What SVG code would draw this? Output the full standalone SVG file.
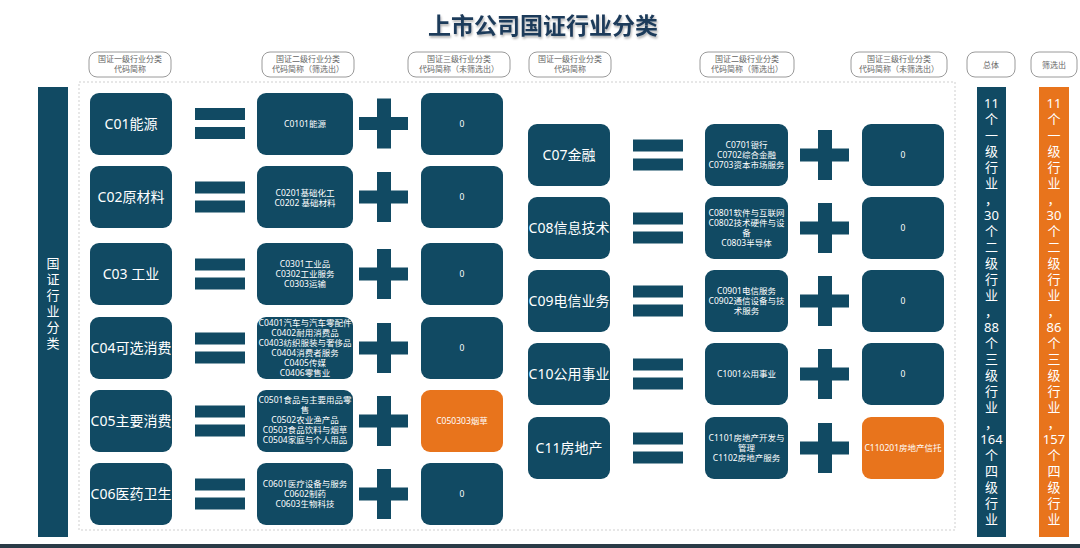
<svg xmlns="http://www.w3.org/2000/svg" width="1080" height="548" viewBox="0 0 1080 548">
<defs>
<style>
text{font-family:"Noto Sans","Noto Sans CJK SC",sans-serif}
.n{fill:#114a63}
.o{fill:#e8741c}
.pill{fill:#fff;stroke:#9a9a9a;stroke-width:1}
.ph{font-size:8px;fill:#666;text-anchor:middle}
.l1{font-size:14px;fill:#fff;text-anchor:middle}
.l2{font-size:8.5px;fill:#fff;text-anchor:middle}
.bt{font-size:13px;fill:#fff;text-anchor:middle}
.title{font-size:23px;font-weight:bold;fill:#1d3a5a;text-anchor:middle}
</style>
<filter id="sh" x="-5%" y="-20%" width="110%" height="150%"><feDropShadow dx="1" dy="2" stdDeviation="1.2" flood-color="#000" flood-opacity="0.3"/></filter>
<g id="eq"><rect x="0" y="-15.5" width="50" height="12" class="n"/><rect x="0" y="3.5" width="50" height="12" class="n"/></g>
<g id="plus"><rect x="0" y="-6.5" width="49" height="13" class="n"/><rect x="18" y="-25" width="14" height="50" class="n"/></g>
</defs>
<rect width="1080" height="548" fill="#fff"/>
<text class="title" x="543" y="34" filter="url(#sh)">上市公司国证行业分类</text>

<g id="headers">
<rect class="pill" x="89" y="52" width="82" height="25" rx="8"/>
<text class="ph" x="130" y="62">国证一级行业分类</text><text class="ph" x="130" y="72">代码简称</text>
<rect class="pill" x="262" y="52" width="92" height="25" rx="8"/>
<text class="ph" x="308" y="62">国证二级行业分类</text><text class="ph" x="308" y="72">代码简称（筛选出）</text>
<rect class="pill" x="408" y="52" width="102" height="25" rx="8"/>
<text class="ph" x="459" y="62">国证三级行业分类</text><text class="ph" x="459" y="72">代码简称（未筛选出）</text>
<rect class="pill" x="529" y="52" width="82" height="25" rx="8"/>
<text class="ph" x="570" y="62">国证一级行业分类</text><text class="ph" x="570" y="72">代码简称</text>
<rect class="pill" x="700" y="52" width="94" height="25" rx="8"/>
<text class="ph" x="747" y="62">国证二级行业分类</text><text class="ph" x="747" y="72">代码简称（筛选出）</text>
<rect class="pill" x="851" y="52" width="96" height="25" rx="8"/>
<text class="ph" x="899" y="62">国证三级行业分类</text><text class="ph" x="899" y="72">代码简称（未筛选出）</text>
<rect class="pill" x="967" y="52" width="48" height="25" rx="8"/>
<text class="ph" x="991" y="67.5">总体</text>
<rect class="pill" x="1031" y="52" width="46" height="25" rx="8"/>
<text class="ph" x="1054" y="67.5">筛选出</text>
</g>

<rect x="79" y="82" width="876" height="448" fill="none" stroke="#cfcfcf" stroke-width="1" stroke-dasharray="2 2"/>

<g id="side-left">
<rect x="38" y="87" width="30" height="450" class="n"/>
<text class="bt"><tspan x="53" y="268">国</tspan><tspan x="53" dy="16">证</tspan><tspan x="53" dy="16">行</tspan><tspan x="53" dy="16">业</tspan><tspan x="53" dy="16">分</tspan><tspan x="53" dy="16">类</tspan></text>
</g>

<g id="connectors">
<use href="#eq" x="195" y="123.5"/><use href="#eq" x="195" y="197"/><use href="#eq" x="195" y="274"/>
<use href="#eq" x="195" y="348"/><use href="#eq" x="195" y="421"/><use href="#eq" x="195" y="494"/>
<use href="#plus" x="359" y="123.5"/><use href="#plus" x="359" y="197"/><use href="#plus" x="359" y="274"/>
<use href="#plus" x="359" y="348"/><use href="#plus" x="359" y="421"/><use href="#plus" x="359" y="494"/>
<use href="#eq" x="633" y="155"/><use href="#eq" x="633" y="228"/><use href="#eq" x="633" y="301"/>
<use href="#eq" x="633" y="374"/><use href="#eq" x="633" y="448"/>
<use href="#plus" x="800" y="155"/><use href="#plus" x="800" y="228"/><use href="#plus" x="800" y="301"/>
<use href="#plus" x="800" y="374"/><use href="#plus" x="800" y="448"/>
</g>

<g id="C01"><rect class="n" x="90" y="93" width="82" height="62" rx="9"/><text class="l1" x="131" y="128.5">C01能源</text></g>
<g id="C01-2"><rect class="n" x="257" y="93" width="96" height="62" rx="9"/><text class="l2" x="305" y="127">C0101能源</text></g>
<g id="C01-3"><rect class="n" x="421" y="93" width="82" height="62" rx="9"/><text class="l2" x="462" y="127">0</text></g>
<g id="C02"><rect class="n" x="90" y="166" width="82" height="62" rx="9"/><text class="l1" x="131" y="202">C02原材料</text></g>
<g id="C02-2"><rect class="n" x="257" y="166" width="96" height="62" rx="9"/><text class="l2" x="305" y="195.5">C0201基础化工</text><text class="l2" x="305" y="205.5">C0202 基础材料</text></g>
<g id="C02-3"><rect class="n" x="421" y="166" width="82" height="62" rx="9"/><text class="l2" x="462" y="200">0</text></g>
<g id="C03"><rect class="n" x="90" y="243" width="82" height="62" rx="9"/><text class="l1" x="131" y="279">C03 工业</text></g>
<g id="C03-2"><rect class="n" x="257" y="243" width="96" height="62" rx="9"/><text class="l2" x="305" y="267">C0301工业品</text><text class="l2" x="305" y="277">C0302工业服务</text><text class="l2" x="305" y="287">C0303运输</text></g>
<g id="C03-3"><rect class="n" x="421" y="243" width="82" height="62" rx="9"/><text class="l2" x="462" y="277">0</text></g>
<g id="C04"><rect class="n" x="90" y="317" width="82" height="62" rx="9"/><text class="l1" x="131" y="353">C04可选消费</text></g>
<g id="C04-2"><rect class="n" x="257" y="317" width="96" height="62" rx="9"/>
<text class="l2" x="305" y="326">C0401汽车与汽车零配件</text><text class="l2" x="305" y="336">C0402耐用消费品</text><text class="l2" x="305" y="346">C0403纺织服装与奢侈品</text><text class="l2" x="305" y="356">C0404消费者服务</text><text class="l2" x="305" y="366">C0405传媒</text><text class="l2" x="305" y="376">C0406零售业</text></g>
<g id="C04-3"><rect class="n" x="421" y="317" width="82" height="62" rx="9"/><text class="l2" x="462" y="351">0</text></g>
<g id="C05"><rect class="n" x="90" y="390" width="82" height="62" rx="9"/><text class="l1" x="131" y="426">C05主要消费</text></g>
<g id="C05-2"><rect class="n" x="257" y="390" width="96" height="62" rx="9"/>
<text class="l2" x="305" y="403">C0501食品与主要用品零</text><text class="l2" x="305" y="413">售</text><text class="l2" x="305" y="423">C0502农业渔产品</text><text class="l2" x="305" y="433">C0503食品饮料与烟草</text><text class="l2" x="305" y="443">C0504家庭与个人用品</text></g>
<g id="C05-3"><rect class="o" x="421" y="390" width="82" height="62" rx="9"/><text class="l2" x="462" y="424">C050303烟草</text></g>
<g id="C06"><rect class="n" x="90" y="463" width="82" height="62" rx="9"/><text class="l1" x="131" y="499">C06医药卫生</text></g>
<g id="C06-2"><rect class="n" x="257" y="463" width="96" height="62" rx="9"/><text class="l2" x="305" y="487">C0601医疗设备与服务</text><text class="l2" x="305" y="497">C0602制药</text><text class="l2" x="305" y="507">C0603生物科技</text></g>
<g id="C06-3"><rect class="n" x="421" y="463" width="82" height="62" rx="9"/><text class="l2" x="462" y="497">0</text></g>

<g id="C07"><rect class="n" x="528" y="124" width="82" height="62" rx="9"/><text class="l1" x="569" y="160">C07金融</text></g>
<g id="C07-2"><rect class="n" x="705" y="124" width="83" height="62" rx="9"/><text class="l2" x="746.5" y="148">C0701银行</text><text class="l2" x="746.5" y="158">C0702综合金融</text><text class="l2" x="746.5" y="168">C0703资本市场服务</text></g>
<g id="C07-3"><rect class="n" x="862" y="124" width="82" height="62" rx="9"/><text class="l2" x="903" y="158">0</text></g>
<g id="C08"><rect class="n" x="528" y="197" width="82" height="62" rx="9"/><text class="l1" x="569" y="233">C08信息技术</text></g>
<g id="C08-2"><rect class="n" x="705" y="197" width="83" height="62" rx="9"/><text class="l2" x="746.5" y="216">C0801软件与互联网</text><text class="l2" x="746.5" y="226">C0802技术硬件与设</text><text class="l2" x="746.5" y="236">备</text><text class="l2" x="746.5" y="246">C0803半导体</text></g>
<g id="C08-3"><rect class="n" x="862" y="197" width="82" height="62" rx="9"/><text class="l2" x="903" y="231">0</text></g>
<g id="C09"><rect class="n" x="528" y="270" width="82" height="62" rx="9"/><text class="l1" x="569" y="306">C09电信业务</text></g>
<g id="C09-2"><rect class="n" x="705" y="270" width="83" height="62" rx="9"/><text class="l2" x="746.5" y="294">C0901电信服务</text><text class="l2" x="746.5" y="304">C0902通信设备与技</text><text class="l2" x="746.5" y="314">术服务</text></g>
<g id="C09-3"><rect class="n" x="862" y="270" width="82" height="62" rx="9"/><text class="l2" x="903" y="304">0</text></g>
<g id="C10"><rect class="n" x="528" y="343" width="82" height="62" rx="9"/><text class="l1" x="569" y="379">C10公用事业</text></g>
<g id="C10-2"><rect class="n" x="705" y="343" width="83" height="62" rx="9"/><text class="l2" x="746.5" y="377">C1001公用事业</text></g>
<g id="C10-3"><rect class="n" x="862" y="343" width="82" height="62" rx="9"/><text class="l2" x="903" y="377">0</text></g>
<g id="C11"><rect class="n" x="528" y="417" width="82" height="62" rx="9"/><text class="l1" x="569" y="453">C11房地产</text></g>
<g id="C11-2"><rect class="n" x="705" y="417" width="83" height="62" rx="9"/><text class="l2" x="746.5" y="441">C1101房地产开发与</text><text class="l2" x="746.5" y="451">管理</text><text class="l2" x="746.5" y="461">C1102房地产服务</text></g>
<g id="C11-3"><rect class="o" x="862" y="417" width="82" height="62" rx="9"/><text class="l2" x="903" y="451">C110201房地产信托</text></g>

<g id="total">
<rect x="977" y="87" width="29" height="450" class="n"/>
<text class="bt"><tspan x="991.5" y="108">11</tspan><tspan x="991.5" dy="16">个</tspan><tspan x="991.5" dy="16">一</tspan><tspan x="991.5" dy="16">级</tspan><tspan x="991.5" dy="16">行</tspan><tspan x="991.5" dy="16">业</tspan><tspan x="991.5" dy="16">，</tspan><tspan x="991.5" dy="16">30</tspan><tspan x="991.5" dy="16">个</tspan><tspan x="991.5" dy="16">二</tspan><tspan x="991.5" dy="16">级</tspan><tspan x="991.5" dy="16">行</tspan><tspan x="991.5" dy="16">业</tspan><tspan x="991.5" dy="16">，</tspan><tspan x="991.5" dy="16">88</tspan><tspan x="991.5" dy="16">个</tspan><tspan x="991.5" dy="16">三</tspan><tspan x="991.5" dy="16">级</tspan><tspan x="991.5" dy="16">行</tspan><tspan x="991.5" dy="16">业</tspan><tspan x="991.5" dy="16">，</tspan><tspan x="991.5" dy="16">164</tspan><tspan x="991.5" dy="16">个</tspan><tspan x="991.5" dy="16">四</tspan><tspan x="991.5" dy="16">级</tspan><tspan x="991.5" dy="16">行</tspan><tspan x="991.5" dy="16">业</tspan></text>
</g>
<g id="filtered">
<rect x="1039" y="87" width="30" height="450" class="o"/>
<text class="bt"><tspan x="1054" y="108">11</tspan><tspan x="1054" dy="16">个</tspan><tspan x="1054" dy="16">一</tspan><tspan x="1054" dy="16">级</tspan><tspan x="1054" dy="16">行</tspan><tspan x="1054" dy="16">业</tspan><tspan x="1054" dy="16">，</tspan><tspan x="1054" dy="16">30</tspan><tspan x="1054" dy="16">个</tspan><tspan x="1054" dy="16">二</tspan><tspan x="1054" dy="16">级</tspan><tspan x="1054" dy="16">行</tspan><tspan x="1054" dy="16">业</tspan><tspan x="1054" dy="16">，</tspan><tspan x="1054" dy="16">86</tspan><tspan x="1054" dy="16">个</tspan><tspan x="1054" dy="16">三</tspan><tspan x="1054" dy="16">级</tspan><tspan x="1054" dy="16">行</tspan><tspan x="1054" dy="16">业</tspan><tspan x="1054" dy="16">，</tspan><tspan x="1054" dy="16">157</tspan><tspan x="1054" dy="16">个</tspan><tspan x="1054" dy="16">四</tspan><tspan x="1054" dy="16">级</tspan><tspan x="1054" dy="16">行</tspan><tspan x="1054" dy="16">业</tspan></text>
</g>
<rect x="0" y="544" width="1080" height="4" fill="#2a3b47"/>
</svg>
